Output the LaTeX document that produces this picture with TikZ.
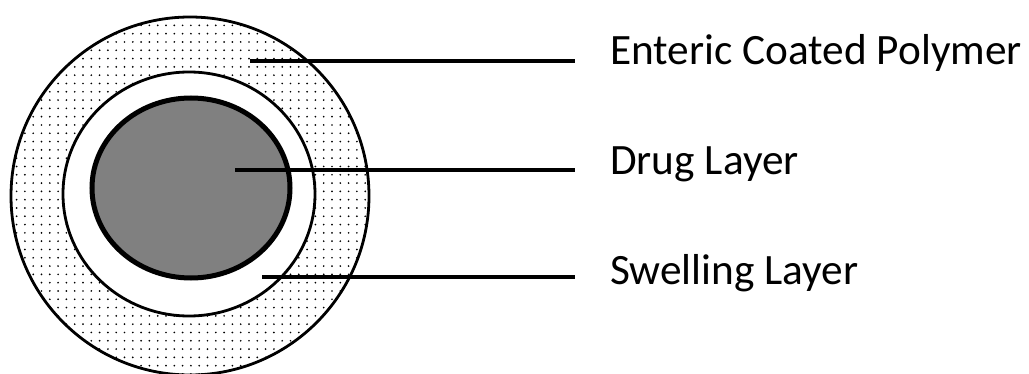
\documentclass[tikz,border=0pt]{standalone}
\usepackage{fontspec}
\setmainfont{Carlito}
\usetikzlibrary{patterns.meta}
\tikzdeclarepattern{name=sparsedots, type=uncolored,
  bounding box={(-4.15pt,-4.15pt) and (4.15pt,4.15pt)},
  tile size={(8.3pt,8.3pt)},
  code={\fill (0,0) circle (0.95pt);}}
\tikzset{
  layer/.style={draw=black, line width=2.8pt},
  leader/.style={draw=black, line width=3.5pt},
  lbl/.style={anchor=base west, inner sep=0pt, font=\fontsize{43.3}{48}\selectfont}
}
\begin{document}
\begin{tikzpicture}[x=1pt,y=-1pt]
\useasboundingbox (0,0) rectangle (1029,374);
% outer enteric coat
\path[fill=white] (190,196) circle (179);
\path[pattern=sparsedots, pattern color=black] (190,196) circle (179);
\draw[layer] (190,196) circle (179);
% swelling layer
\draw[layer, fill=white] (189,194) ellipse [x radius=126, y radius=122];
% drug core
\draw[draw=black, line width=5pt, fill=black!50] (191,188) ellipse [x radius=99, y radius=90];
% labels
\node[lbl] (ent) at (610,65) {Enteric Coated Polymer};
\node[lbl] (drug) at (610,175) {Drug Layer};
\node[lbl] (swell) at (610,285) {Swelling Layer};
% leader lines
\coordinate (e1) at (250,61);
\coordinate (d1) at (235,170);
\coordinate (s1) at (262,277);
\draw[leader] (e1) -- ([xshift=-35pt]e1 -| ent.west);
\draw[leader] (d1) -- ([xshift=-35pt]d1 -| drug.west);
\draw[leader] (s1) -- ([xshift=-35pt]s1 -| swell.west);
\end{tikzpicture}
\end{document}
